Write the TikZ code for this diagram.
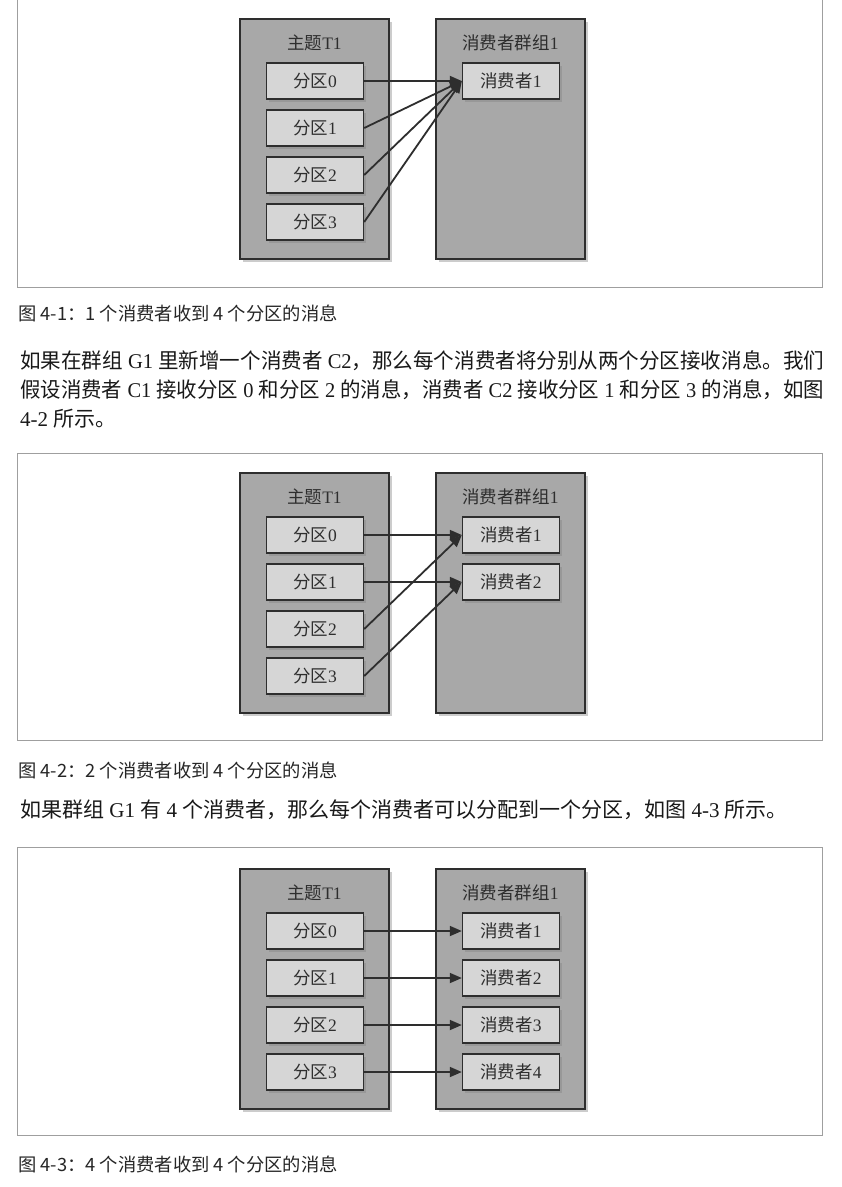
\documentclass[tikz,border=0pt]{standalone}
\usepackage{graphicx}
\usepackage{fontspec}
\setmainfont{Liberation Serif}
\newfontfamily\cjk{Noto Sans CJK SC}
\usetikzlibrary{arrows.meta,shadows}
\definecolor{boxgray}{gray}{0.66}
\definecolor{cellgray}{gray}{0.84}
\definecolor{inkgray}{gray}{0.18}
\newcommand{\zh}[1]{{\cjk #1}}

\begin{document}
\begin{tikzpicture}[x=1pt,y=-1pt,
	outerbox/.style={draw=inkgray, line width=1.4pt, fill=boxgray, minimum width=149pt, minimum height=240pt,
		drop shadow={shadow xshift=3pt, shadow yshift=-3pt, opacity=.4}},
	cellbox/.style={draw=inkgray, line width=1.4pt, fill=cellgray, minimum width=97pt, minimum height=36pt,
		font=\fontsize{17.5}{19}\selectfont, text=inkgray,
		drop shadow={shadow xshift=2.5pt, shadow yshift=-2.5pt, opacity=.4}},
	boxtitle/.style={font=\fontsize{17.5}{19}\selectfont, text=inkgray},
	feed/.style={-{Triangle[length=12pt,width=10pt]}, line width=1.8pt, draw=inkgray},
	framebox/.style={draw=gray!75, line width=.8pt},
	caption/.style={anchor=west, inner sep=0pt, font=\cjk\fontsize{18.3}{21}\selectfont, text=black!85},
	bodyline/.style={anchor=west, inner sep=0pt, font=\fontsize{21}{25}\selectfont, text=black!90}]

	\useasboundingbox (0,0) rectangle (842,1187);
	\fill[white] (0,0) rectangle (842,1187);

	\draw[framebox] (17,0) -- (17,287) -- (822,287) -- (822,0);
	\node[outerbox] (t1) at (314.5,139) {};
	\node[outerbox] (g1) at (510.5,139) {};
	\node[boxtitle] (t1name) at (314.5,43) {\zh{主题}T1};
	\node[boxtitle] (g1name) at (510.5,43) {\zh{消费者群组}1};
	\foreach \i in {0,...,3}
		\node[cellbox] (p1\i) at (315,{81+47*\i}) {\zh{分区}\i};
	\node[cellbox] (c11) at (511,81) {\zh{消费者}1};
	\foreach \i in {0,...,3}
		\draw[feed] (p1\i.east) -- (c11.west);
	\node[caption] (cap1) at (18,313) {图 4-1：1 个消费者收到 4 个分区的消息};

	\node[bodyline] (l1) at (20,361) {\resizebox{804pt}{\height}{\zh{如果在群组} G1 \zh{里新增一个消费者} C2\zh{，那么每个消费者将分别从两个分区接收消息。我们}}};
	\node[bodyline] (l2) at (20,390) {\resizebox{804pt}{\height}{\zh{假设消费者} C1 \zh{接收分区} 0 \zh{和分区} 2 \zh{的消息，消费者} C2 \zh{接收分区} 1 \zh{和分区} 3 \zh{的消息，如图}}};
	\node[bodyline] (l3) at (20,419) {4-2 \zh{所示。}};

	\draw[framebox] (17,453) rectangle (822,740);
	\node[outerbox] (t2) at (314.5,593) {};
	\node[outerbox] (g2) at (510.5,593) {};
	\node[boxtitle] (t2name) at (314.5,497) {\zh{主题}T1};
	\node[boxtitle] (g2name) at (510.5,497) {\zh{消费者群组}1};
	\foreach \i in {0,...,3}
		\node[cellbox] (p2\i) at (315,{535+47*\i}) {\zh{分区}\i};
	\node[cellbox] (c21) at (511,535) {\zh{消费者}1};
	\node[cellbox] (c22) at (511,582) {\zh{消费者}2};
	\draw[feed] (p20.east) -- (c21.west);
	\draw[feed] (p21.east) -- (c22.west);
	\draw[feed] (p22.east) -- (c21.west);
	\draw[feed] (p23.east) -- (c22.west);
	\node[caption] (cap2) at (18,770) {图 4-2：2 个消费者收到 4 个分区的消息};

	\node[bodyline] (l4) at (20,810) {\zh{如果群组} G1 \zh{有} 4 \zh{个消费者，那么每个消费者可以分配到一个分区，如图} 4-3 \zh{所示。}};

	\draw[framebox] (17,847) rectangle (822,1135);
	\node[outerbox] (t3) at (314.5,989) {};
	\node[outerbox] (g3) at (510.5,989) {};
	\node[boxtitle] (t3name) at (314.5,893) {\zh{主题}T1};
	\node[boxtitle] (g3name) at (510.5,893) {\zh{消费者群组}1};
	\foreach \i [evaluate=\i as \n using int(\i+1)] in {0,...,3} {
		\node[cellbox] (p3\i) at (315,{931+47*\i}) {\zh{分区}\i};
		\node[cellbox] (c3\n) at (511,{931+47*\i}) {\zh{消费者}\n};
		\draw[feed] (p3\i.east) -- (c3\n.west);
	}
	\node[caption] (cap3) at (18,1164) {图 4-3：4 个消费者收到 4 个分区的消息};
\end{tikzpicture}
\end{document}
